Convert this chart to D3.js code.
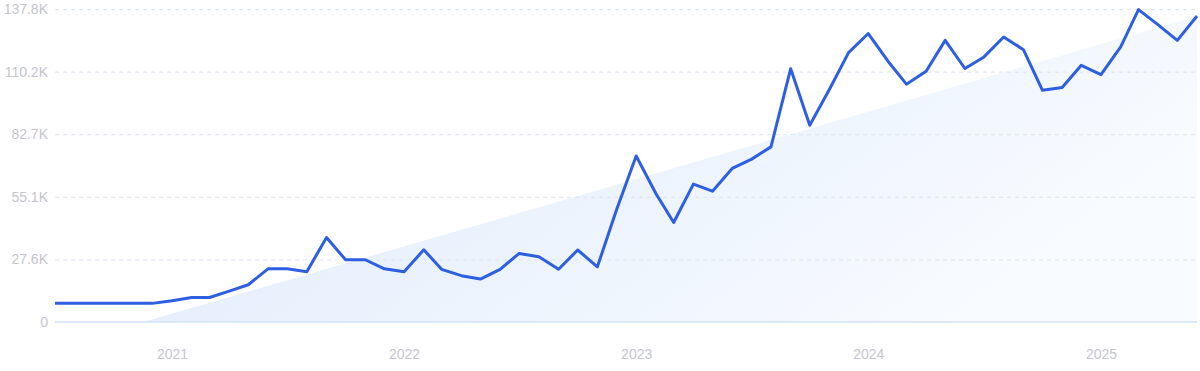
<!DOCTYPE html>
<html lang="en">
<head>
    <meta charset="UTF-8">
    <title>Trend chart</title>
    <style>
        body { margin: 0; background: #fff; font-family: Inter, "Noto Sans", sans-serif; }
        .grid line { stroke: #dce5f2; stroke-dasharray: 4,4; }
        .tick text { fill: #c5c5cd; font-size: 14px; }
    </style>
</head>
<body>
    <svg id="chart"></svg>
    <script src="https://d3js.org/d3.v7.min.js"></script>
    <script>
        // monthly values, Jul 2020 .. Jun 2025 (thousands)
        const firstMonth = new Date(2020, 6, 1);
        const values = [
            8.2, 8.2, 8.2, 8.2, 8.2, 8.2, 9.4, 10.8, 10.8, 13.6, 16.4, 23.4,
            23.4, 22.1, 37.2, 27.4, 27.4, 23.4, 22.1, 31.8, 23.2, 20.4, 18.9, 23.2,
            30.2, 28.7, 23.2, 31.7, 24.3, 49.3, 73.1, 56.6, 43.8, 60.7, 57.6, 67.6,
            71.6, 77.1, 111.5, 86.6, 102.5, 118.6, 127.0, 114.8, 104.7, 110.4, 124.0, 111.6,
            116.7, 125.5, 119.9, 102.0, 103.2, 113.0, 108.9, 121.1, 137.5, 130.8, 124.0, 134.7
        ];
        const trendEnds = [-11.3, 134.6];   // trend at first and last month
        const yTicks = [0, 27.56, 55.12, 82.68, 110.24, 137.8];
        const yTickLabels = ['0', '27.6K', '55.1K', '82.7K', '110.2K', '137.8K'];
        const xTickYears = [2021, 2022, 2023, 2024, 2025];

        const W = 1200, H = 371;
        const margin = { top: 9, right: 3, bottom: 49, left: 55 };
        const width = W - margin.left - margin.right;
        const height = H - margin.top - margin.bottom;

        const data = values.map((v, i) => ({ date: d3.timeMonth.offset(firstMonth, i), value: v }));
        const lastDate = data[data.length - 1].date;

        const x = d3.scaleTime().domain([firstMonth, lastDate]).range([0, width]);
        const y = d3.scaleLinear().domain([0, 137.8]).range([height, 0]);

        const svg = d3.select('#chart').attr('width', W).attr('height', H);
        const defs = svg.append('defs');
        defs.append('clipPath').attr('id', 'clip')
            .append('rect').attr('width', width).attr('height', height);
        const grad = defs.append('linearGradient').attr('id', 'areaGrad')
            .attr('x1', '0%').attr('y1', '0%').attr('x2', '100%').attr('y2', '40%');
        grad.append('stop').attr('offset', '0%').attr('stop-color', '#dbe8fa');
        grad.append('stop').attr('offset', '100%').attr('stop-color', '#f8fbff');

        const g = svg.append('g').attr('transform', `translate(${margin.left},${margin.top})`);

        // trend area
        const trend = [
            { date: firstMonth, value: trendEnds[0] },
            { date: lastDate, value: trendEnds[1] }
        ];
        g.append('path')
            .datum(trend)
            .attr('clip-path', 'url(#clip)')
            .attr('fill', 'url(#areaGrad)')
            .attr('d', d3.area().x(d => x(d.date)).y0(y(0)).y1(d => y(d.value)));

        // grid + y labels
        const yAxis = d3.axisLeft(y).tickValues(yTicks).tickSize(-width).tickPadding(7)
            .tickFormat((d, i) => yTickLabels[i]);
        const yg = g.append('g').attr('class', 'grid').call(yAxis);
        yg.select('.domain').remove();
        yg.selectAll('.tick line').filter(d => d === 0).remove();

        // baseline
        g.append('line')
            .attr('x1', 0).attr('x2', width)
            .attr('y1', y(0)).attr('y2', y(0))
            .attr('stroke', '#cfe5f8').attr('stroke-width', 1.5);

        // x axis
        const xAxis = d3.axisBottom(x)
            .tickValues(xTickYears.map(yr => new Date(yr, 0, 1)))
            .tickFormat(d3.timeFormat('%Y')).tickSize(0).tickPadding(27);
        const xg = g.append('g').attr('transform', `translate(0,${height})`).call(xAxis);
        xg.select('.domain').remove();

        // line
        g.append('path')
            .datum(data)
            .attr('fill', 'none')
            .attr('stroke', '#2e5fe3')
            .attr('stroke-width', 3)
            .attr('stroke-linejoin', 'round')
            .attr('d', d3.line().x(d => x(d.date)).y(d => y(d.value)));
    </script>
</body>
</html>
